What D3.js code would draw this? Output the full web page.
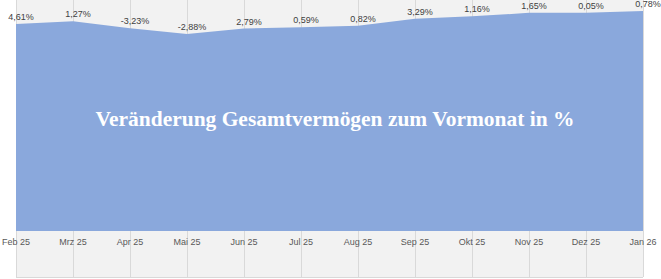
<!DOCTYPE html>
<html lang="de">
<head>
<meta charset="utf-8">
<script src="https://d3js.org/d3.v7.min.js"></script>
<style>
  body { margin: 0; background: #fff; }
  .lbl { font: 9px "Liberation Sans", sans-serif; fill: #404040; }
  .xlab { font: 9px "Liberation Sans", sans-serif; fill: #595959; }
  .title { font: bold 21px "Liberation Serif", serif; fill: #fff; }
</style>
</head>
<body>
<svg width="661" height="279"></svg>
<script>

// months shown on the x axis
var months = ["Feb 25", "Mrz 25", "Apr 25", "Mai 25", "Jun 25", "Jul 25",
              "Aug 25", "Sep 25", "Okt 25", "Nov 25", "Dez 25", "Jan 26"];

// total assets (indexed, Feb 25 = 100)
var assets = [100, 101.3, 98.0, 95.2, 97.8, 98.4, 99.2, 102.5, 103.7, 105.4, 105.4, 106.3];

// change vs previous month, as printed above the area
var changes = ["4,61%", "1,27%", "-3,23%", "-2,88%", "2,79%", "0,59%",
               "0,82%", "3,29%", "1,16%", "1,65%", "0,05%", "0,78%"];

var title = "Veränderung Gesamtvermögen zum Vormonat in %";

var svg = d3.select("svg");

// note: "top" would clash with window.top
var plotLeft = 16, plotRight = 643, plotTop = 0, plotBottom = 277, areaBase = 231;

var x = d3.scalePoint().domain(months).range([plotLeft, plotRight]);
var y = d3.scaleLinear().domain([0, 111.6]).range([areaBase, plotTop]);

// plot background
svg.append("rect")
    .attr("x", plotLeft).attr("y", plotTop)
    .attr("width", plotRight - plotLeft).attr("height", plotBottom - plotTop)
    .attr("fill", "#f2f2f2");

// vertical gridlines
svg.append("g").selectAll("line")
    .data(months)
    .join("line")
    .attr("x1", function(d) { return x(d) + 0.5; })
    .attr("x2", function(d) { return x(d) + 0.5; })
    .attr("y1", plotTop).attr("y2", plotBottom)
    .attr("stroke", "#d9d9d9")
    .attr("stroke-width", 1);

// bottom border
svg.append("line")
    .attr("x1", plotLeft).attr("x2", plotRight)
    .attr("y1", plotBottom + 0.5).attr("y2", plotBottom + 0.5)
    .attr("stroke", "#d9d9d9");

// the area
var area = d3.area()
    .x(function(d, i) { return x(months[i]); })
    .y0(y(0))
    .y1(function(d) { return y(d); });

svg.append("path")
    .datum(assets)
    .attr("d", area)
    .attr("fill", "#8aa8dc");

// data labels
svg.append("g").selectAll("text")
    .data(assets)
    .join("text")
    .attr("class", "lbl")
    .attr("x", function(d, i) { return x(months[i]) + 5; })
    .attr("y", function(d) { return y(d) - 4; })
    .attr("text-anchor", "middle")
    .text(function(d, i) { return changes[i]; });

// x axis labels
svg.append("g").selectAll("text")
    .data(months)
    .join("text")
    .attr("class", "xlab")
    .attr("x", function(d) { return x(d); })
    .attr("y", 245)
    .attr("text-anchor", "middle")
    .text(function(d) { return d; });

// title inside the area
svg.append("text")
    .attr("class", "title")
    .attr("x", 335)
    .attr("y", 126)
    .attr("text-anchor", "middle")
    .attr("textLength", 479)
    .attr("lengthAdjust", "spacingAndGlyphs")
    .text(title);

</script>
</body>
</html>
